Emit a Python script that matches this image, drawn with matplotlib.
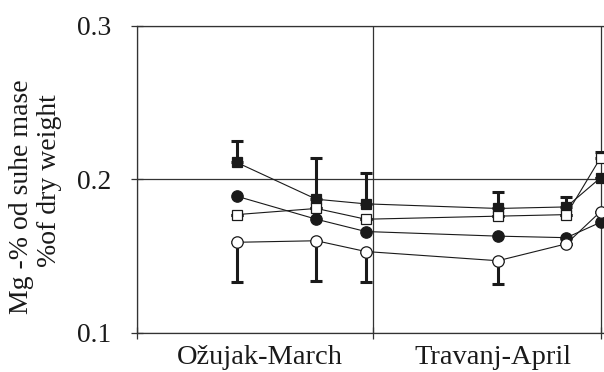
import matplotlib
matplotlib.use("Agg")
import matplotlib.pyplot as plt
import numpy as np

plt.rcParams['font.family'] = ['Liberation Serif', 'DejaVu Serif']

# sampling days counted from 1 March (March = 0..31, April = 31..61)
days = [13.1, 23.6, 30.1, 47.5, 56.5, 61.0]

# Mg content, % of dry weight, four treatments
filled_square = [0.211, 0.187, 0.184, 0.181, 0.182, 0.201]
open_square = [0.177, 0.181, 0.174, 0.176, 0.177, 0.214]
filled_circle = [0.189, 0.174, 0.166, 0.163, 0.162, 0.172]
open_circle = [0.159, 0.160, 0.153, 0.147, 0.158, 0.179]

# error bars (only one side is printed in the original)
filled_square_up = [0.014, 0.027, 0.020, 0.011, 0.0065, 0.0]
open_square_up = [0.0, 0.0, 0.0, 0.0, 0.0, 0.0035]
open_circle_down = [0.026, 0.026, 0.020, 0.015, 0.0, 0.0]

month_edges = [0, 31, 61]
month_mid = [16.2, 46.8]
month_labels = ['Ožujak-March', 'Travanj-April']

fig = plt.figure(figsize=(6.04, 3.72), dpi=100)
ax = fig.add_axes([137 / 604, 1 - 333 / 372, 1 - 137 / 604, (333 - 25.5) / 372])

ink = '#1a1a1a'
err_kw = dict(fmt='none', ecolor=ink, elinewidth=2.2, capsize=4.3, capthick=2.2, zorder=2)

zeros = [0] * len(days)
ax.errorbar(days, filled_square, yerr=[zeros, filled_square_up], **err_kw)
ax.errorbar(days, open_square, yerr=[zeros, open_square_up], **err_kw)
ax.errorbar(days, open_circle, yerr=[open_circle_down, zeros], **err_kw)

line_kw = dict(color=ink, lw=0.8, markeredgecolor=ink, markeredgewidth=0.9, zorder=3)
ax.plot(days, filled_square, marker='s', ms=7.2, markerfacecolor=ink, **line_kw)
ax.plot(days, open_square, marker='s', ms=6.5, markerfacecolor='white', **line_kw)
ax.plot(days, filled_circle, marker='o', ms=8.2, markerfacecolor=ink, **line_kw)
ax.plot(days, open_circle, marker='o', ms=8.2, markerfacecolor='white', **line_kw)

ax.set_xlim(0, 61.45)
ax.set_ylim(0.1, 0.3)
ax.set_yticks([0.1, 0.2, 0.3])
ax.set_yticklabels(['0.1', '0.2', '0.3'])
ax.set_xticks(month_edges)
ax.set_xticklabels([])
ax.set_xticks(month_mid, minor=True)
ax.set_xticklabels(month_labels, minor=True)

ax.grid(True, which='major', color='#333333', lw=0.9)
ax.set_axisbelow(True)

for side in ['left', 'top', 'bottom']:
    ax.spines[side].set_color('#333333')
    ax.spines[side].set_linewidth(0.9)
ax.spines['right'].set_visible(False)

ax.tick_params(axis='y', direction='inout', length=8, width=0.9, color='#333333',
               labelsize=19.8, pad=14.3, labelcolor=ink)
ax.tick_params(axis='x', which='major', direction='inout', length=8, width=0.9, color='#333333')
# month names sit a little higher than in the print so the descenders stay inside
ax.tick_params(axis='x', which='minor', length=0, labelsize=20.5, pad=8.8, labelcolor=ink)

fig.text(22 / 604, 1 - 197 / 372, 'Mg -% od suhe mase', rotation=90,
         ha='center', va='center', fontsize=20, color=ink)
fig.text(50 / 604, 1 - 180.5 / 372, '%of dry weight', rotation=90,
         ha='center', va='center', fontsize=20, color=ink)

fig.savefig('out.png', dpi=100)
